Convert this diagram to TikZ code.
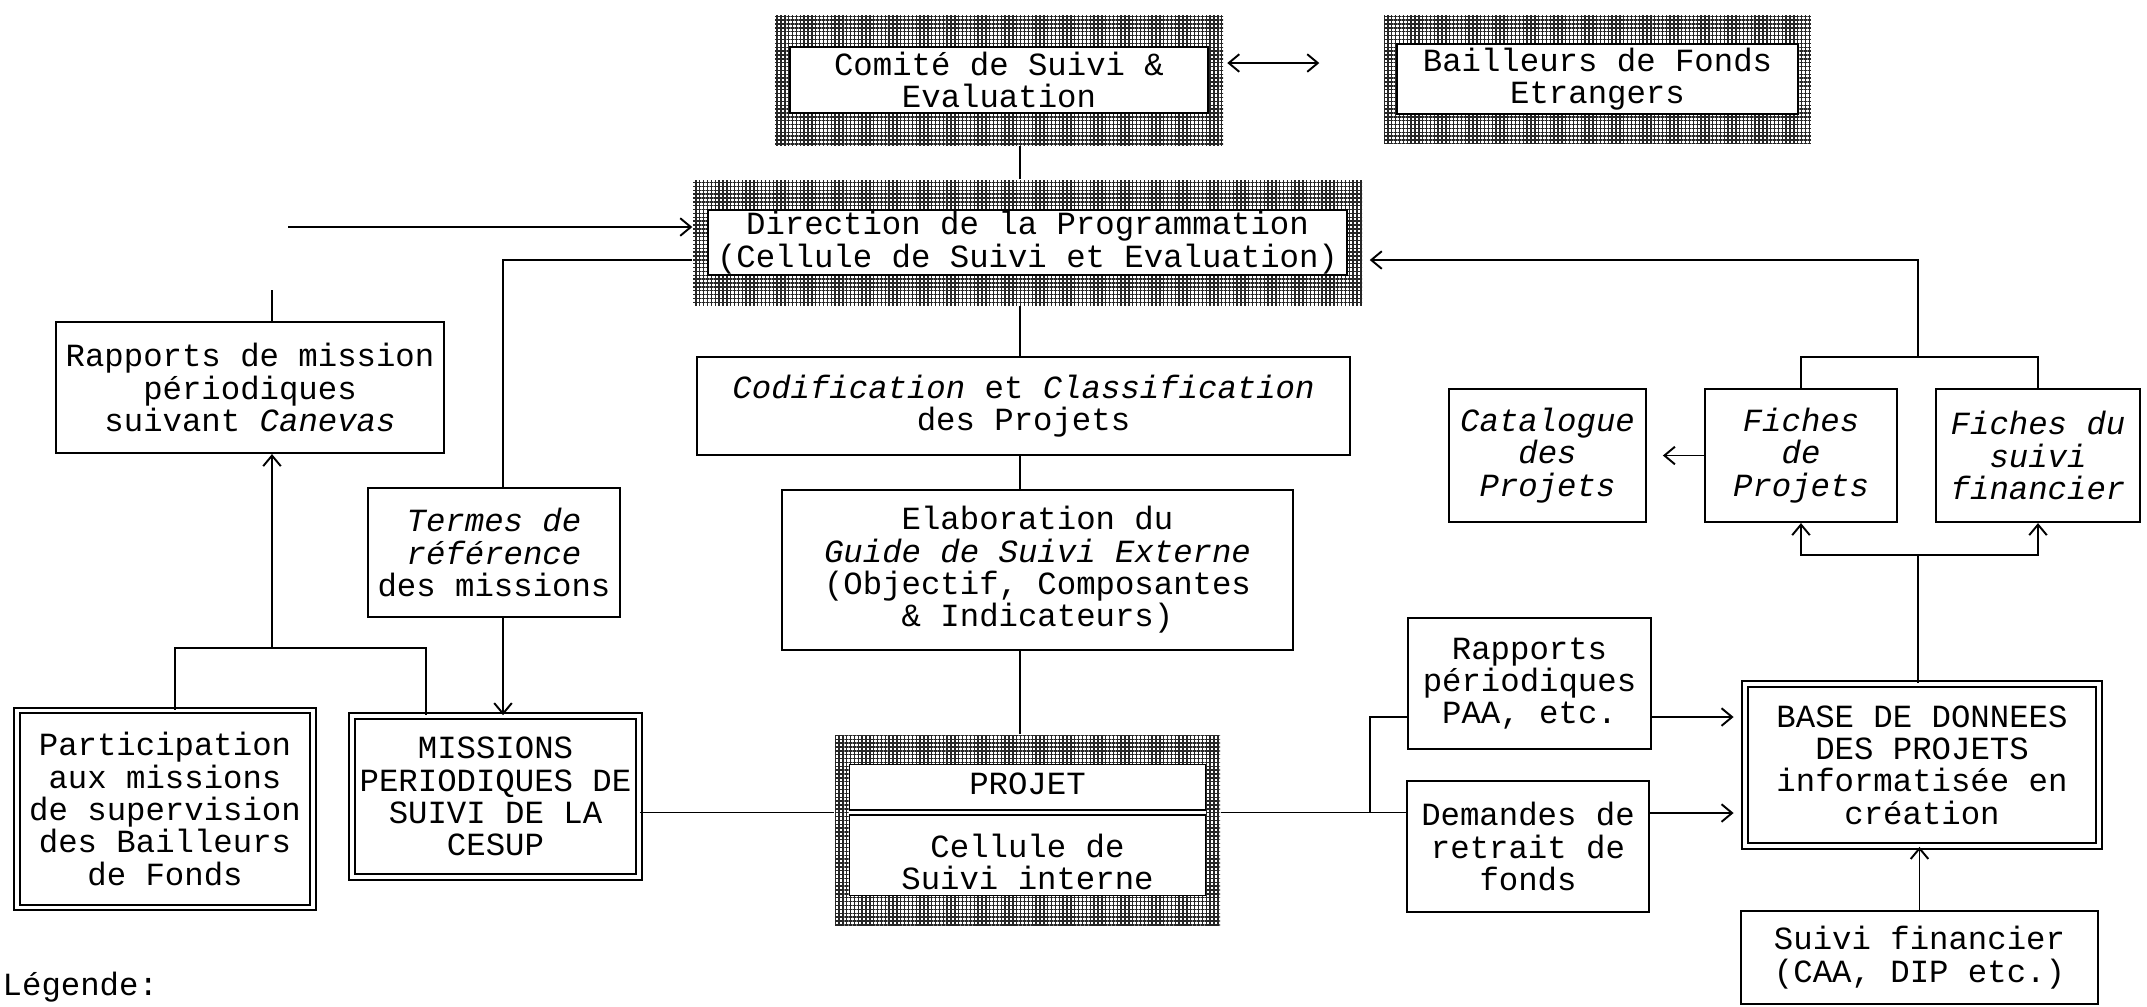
\documentclass[tikz,border=0pt]{standalone}
\usepackage{fontspec}
\setmainfont{Liberation Mono}
\usetikzlibrary{arrows.meta,positioning,patterns.meta}

\begin{document}
\begin{tikzpicture}[
  >={Straight Barb[length=3pt,width=5pt]},
  font=\fontsize{9.2}{9.2}\selectfont,
  box/.style={draw, line width=0.6pt, align=center, inner sep=0pt, fill=white},
  dbox/.style={box, double, line width=0.5pt, double distance=1.1pt},
  frame/.style={pattern={Hatch[angle=0,distance=1.1pt,line width=0.4pt]},
                pattern color=black!85, inner sep=0pt},
  card/.style={box, line width=0.5pt},
  flow/.style={->, line width=0.55pt},
  link/.style={line width=0.55pt}
]
  \useasboundingbox (0,0) rectangle (21.47,-10.06);

  % helper points
  \coordinate (spine) at (10.20,0);
  \coordinate (tcol) at (5.03,0);
  \coordinate (plev) at (0,-8.125);
  \coordinate (extin) at (2.88,-2.27);
  \coordinate (rapup) at (2.72,-2.90);
  \coordinate (rapjoin) at (2.72,-6.48);
  \coordinate (rbranch) at (13.70,-8.125);
  \coordinate (fsplit) at (19.18,-3.57);
  \coordinate (bsplit) at (19.18,-5.55);

  % hatched boxes
  \node[frame, minimum width=4.48cm, minimum height=1.30cm] (comite) at (9.99,-0.80) {};
  \node[card, minimum width=4.18cm, minimum height=0.66cm] (comitetxt) at (comite) {Comité de Suivi \&\\Evaluation};
  \node[frame, minimum width=4.27cm, minimum height=1.28cm] (bailleurs) at (15.975,-0.79) {};
  \node[card, minimum width=4.01cm, minimum height=0.70cm] (bailleurstxt) at (bailleurs) {Bailleurs de Fonds\\Etrangers};
  \node[frame, minimum width=6.69cm, minimum height=1.25cm] (direction) at (10.275,-2.425) {};
  \node[card, minimum width=6.39cm, minimum height=0.65cm] (directiontxt) at (direction) {Direction de la Programmation\\(Cellule de Suivi et Evaluation)};
  \node[frame, minimum width=3.85cm, minimum height=1.90cm] (projet) at (10.275,-8.30) {};
  \node[card, minimum width=3.56cm, minimum height=1.31cm] (projetin) at (projet) {};
  \draw[double, line width=0.4pt, double distance=1pt] (projetin.west |- plev) -- (projetin.east |- plev);
  \node (projettop) at (10.275,-7.84) {PROJET};
  \node[align=center] (projetbot) at (10.275,-8.62) {Cellule de\\Suivi interne};

  % plain boxes
  \node[box, minimum width=3.88cm, minimum height=1.31cm] (rapports) at (2.50,-3.875) {Rapports de mission\\périodiques\\suivant \textit{Canevas}};
  \node[box, minimum width=2.52cm, minimum height=1.29cm] (termes) at (4.94,-5.525) {\textit{Termes de}\\\textit{référence}\\des missions};
  \node[box, minimum width=6.53cm, minimum height=0.98cm] (codif) at (10.235,-4.06) {\textit{Codification} et \textit{Classification}\\des Projets};
  \node[box, minimum width=5.11cm, minimum height=1.60cm] (elab) at (10.375,-5.70) {Elaboration du\\\textit{Guide de Suivi Externe}\\(Objectif, Composantes\\\& Indicateurs)};
  \node[box, minimum width=1.97cm, minimum height=1.33cm] (catalogue) at (15.475,-4.555) {\textit{Catalogue}\\\textit{des}\\\textit{Projets}};
  \node[box, minimum width=1.92cm, minimum height=1.33cm] (fichp) at (18.01,-4.555) {\textit{Fiches}\\\textit{de}\\\textit{Projets}};
  \node[box, minimum width=2.04cm, minimum height=1.33cm] (fichf) at (20.38,-4.555) {\textit{Fiches du}\\\textit{suivi}\\\textit{financier}};
  \node[box, minimum width=2.43cm, minimum height=1.31cm] (rapper) at (15.295,-6.835) {Rapports\\périodiques\\PAA, etc.};
  \node[box, minimum width=2.42cm, minimum height=1.31cm] (demandes) at (15.28,-8.465) {Demandes de\\retrait de\\fonds};
  \node[box, minimum width=3.57cm, minimum height=0.93cm] (suivi) at (19.195,-9.575) {Suivi financier\\(CAA, DIP etc.)};

  % double boxes
  \node[dbox, minimum width=2.96cm, minimum height=1.97cm] (particip) at (1.65,-8.09) {Participation\\aux missions\\de supervision\\des Bailleurs\\de Fonds};
  \node[dbox, minimum width=2.87cm, minimum height=1.61cm] (missions) at (4.955,-7.965) {MISSIONS\\PERIODIQUES DE\\SUIVI DE LA\\CESUP};
  \node[dbox, minimum width=3.54cm, minimum height=1.62cm] (base) at (19.22,-7.65) {BASE DE DONNEES\\DES PROJETS\\informatisée en\\création};

  \node[anchor=base west, inner sep=0pt] (legende) at (0.02,-9.95) {Légende:};

  % connectors
  \draw[flow, <->, shorten <=1pt, shorten >=0.64cm] ([yshift=0.17cm]comite.east) -- ([yshift=0.17cm]comite.east -| bailleurs.west);
  \draw[link] (spine |- comite.south) -- (spine |- direction.north);
  \draw[link] (spine |- direction.south) -- (spine |- codif.north);
  \draw[link] (spine |- codif.south) -- (spine |- elab.north);
  \draw[link] (spine |- elab.south) -- (spine |- projet.north);
  \draw[flow] (extin) -- (extin -| direction.west);
  \draw[link] ([yshift=-0.175cm]direction.west) -| (tcol |- termes.north);
  \draw[flow] (tcol |- termes.south) -- (tcol |- missions.north);
  \draw[link] (rapup) -- (rapup |- rapports.north);
  \draw[link] ([xshift=0.10cm]particip.north) |- (rapjoin) -| ([xshift=-0.695cm]missions.north);
  \draw[flow] (rapjoin) -- (rapjoin |- rapports.south);
  \draw[link] (missions.east |- plev) -- (projet.west |- plev);
  \draw[link] (projet.east |- plev) -- (demandes.west |- plev);
  \draw[link] (rbranch) |- ([yshift=-0.335cm]rapper.west);
  \draw[flow, shorten >=3pt] ([yshift=-0.335cm]rapper.east) -- ([yshift=-0.335cm]rapper.east -| base.west);
  \draw[flow, shorten >=3pt] ([yshift=0.335cm]demandes.east) -- ([yshift=0.335cm]demandes.east -| base.west);
  \draw[flow, shorten >=2pt] (fsplit) |- ([yshift=-0.175cm]direction.east);
  \draw[link] (fichp.north) |- (fsplit) -| (fichf.north);
  \draw[flow, shorten >=4.5pt] (fichp.west) -- (catalogue.east);
  \draw[link] (bsplit) -- (bsplit |- base.north);
  \draw[flow] (bsplit) -| (fichp.south);
  \draw[flow] (bsplit) -| (fichf.south);
  \draw[flow] (suivi.north) -- (suivi.north |- base.south);
\end{tikzpicture}
\end{document}
